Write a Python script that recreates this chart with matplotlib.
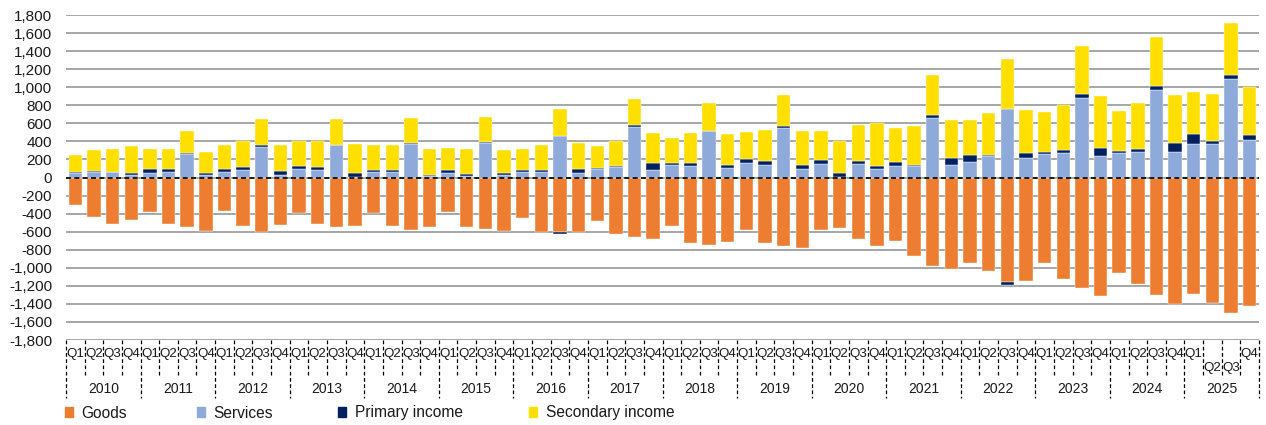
import matplotlib
matplotlib.use("Agg")
import matplotlib.pyplot as plt
from matplotlib.patches import Patch
import numpy as np

plt.rcParams['font.family'] = ['Liberation Sans', 'DejaVu Sans']

# data, 2010 Q1 .. 2025 Q4
years = [str(y) for y in range(2010, 2026)]
quarters = ['Q1', 'Q2', 'Q3', 'Q4']

goods = [-310, -439, -510, -476, -380, -510, -550, -598, -366, -539, -606, -528, -388, -513,
         -550, -532, -388, -535, -580, -550, -384, -550, -572, -591, -451, -602, -609, -609, -484, -631,
         -657, -680, -539, -728, -750, -716, -580, -720, -761, -779, -580, -558, -680, -761, -698, -872,
         -979, -1016, -942, -1041, -1160, -1145, -942, -1119, -1226, -1311, -1053, -1178, -1304, -1400,
         -1285, -1385, -1496, -1418]
services = [45, 60, 60, 33, 55, 66, 255, 33, 63, 78, 340, 30, 89, 78,
            358, 10, 59, 63, 369, 18, 48, 22, 377, 26, 66, 63, 465, 52, 89, 111,
            554, 85, 133, 126, 510, 107, 159, 140, 547, 96, 148, 5, 151, 96, 129, 122,
            661, 144, 174, 236, 757, 214, 262, 266, 879, 236, 273, 284, 964, 277, 373, 366, 1093, 414]
primary = [18, 14, 3, 22, 34, 30, 18, 15, 33, 40, 18, 44, 40, 40,
           3, 38, 26, 22, 15, 15, 33, 22, 11, 22, 19, 22, -18, 40, 18, 11,
           26, 74, 33, 33, 3, 37, 51, 41, 18, 37, 51, 40, 34, 33, 41, 22,
           26, 70, 77, 15, -26, 56, 19, 40, 44, 93, 22, 34, 55, 100, 107, 40, 37, 55]
secondary = [188, 232, 258, 296, 225, 225, 244, 240, 262, 284, 285, 288, 270, 288,
             288, 325, 270, 277, 277, 285, 251, 270, 280, 258, 236, 277, 292, 292, 244, 284,
             292, 332, 270, 332, 314, 340, 292, 340, 351, 384, 311, 362, 395, 477, 380, 432,
             450, 425, 381, 465, 554, 480, 446, 499, 536, 572, 444, 506, 536, 535, 462, 517, 584, 532]

series = [('Goods', goods, '#ED7D31'),
          ('Services', services, '#8EAADB'),
          ('Primary income', primary, '#002060'),
          ('Secondary income', secondary, '#FFDF00')]

n = len(goods)
x = np.arange(n)

fig = plt.figure(figsize=(12.66, 4.25), dpi=100)
ax = fig.add_axes([66 / 1266, 85 / 425, 1193 / 1266, 325 / 425])

pos_base = np.zeros(n)
neg_base = np.zeros(n)
for name, vals, col in series:
    v = np.array(vals, dtype=float)
    bottom = np.where(v >= 0, pos_base, neg_base)
    ax.bar(x, v, 0.72, bottom=bottom, color=col, zorder=3,
           edgecolor='white', linewidth=0.3)
    pos_base += np.where(v >= 0, v, 0)
    neg_base += np.where(v < 0, v, 0)

ax.set_xlim(-0.5, n - 0.5)
ax.set_ylim(-1800, 1800)
ax.set_yticks(np.arange(-1800, 1801, 200))
ax.set_yticklabels([f'{t:,}' for t in range(-1800, 1801, 200)], fontsize=11, color='#1a1a1a')
ax.tick_params(axis='y', length=0, pad=10)
ax.set_xticks([])
ax.grid(axis='y', color='#a6a6a6', linewidth=1.4, zorder=0)
for s in ax.spines.values():
    s.set_visible(False)

# zero line
ax.axhline(0, color='black', linewidth=1.2, linestyle=(0, (3, 2)), zorder=4)

# two-level category axis
tr = ax.get_xaxis_transform()
for i in range(n):
    q = quarters[i % 4]
    yy = -0.043
    if i in (61, 62):
        yy = -0.086
    ax.text(i, yy, q, transform=tr, ha='center', va='center', fontsize=9.6, color='#1a1a1a')
for b in np.arange(-0.5, n, 1.0):
    if int(b + 0.5) % 4 == 0:
        ax.plot([b, b], [0, -0.178], transform=tr, color='black', lw=0.9,
                linestyle=(0, (3, 2)), clip_on=False)
    else:
        ax.plot([b, b], [0, -0.108], transform=tr, color='black', lw=0.9,
                linestyle=(0, (3, 2)), clip_on=False)
for k, yr in enumerate(years):
    ax.text(4 * k + 1.5, -0.151, yr, transform=tr, ha='center', va='center',
            fontsize=10, color='#1a1a1a')

# legend entries, spaced like the original
leg_x = [65, 197, 338, 529]
for (name, vals, col), lx in zip(series, leg_x):
    lg = fig.legend(handles=[Patch(color=col)], labels=[name], loc='center left',
                    bbox_to_anchor=(lx / 1266, 1 - 413 / 425), frameon=False,
                    fontsize=11.2, handlelength=0.52, handleheight=0.52,
                    handletextpad=0.55, borderpad=0, borderaxespad=0)
    for t in lg.get_texts():
        t.set_color('#1a1a1a')

fig.savefig('out.png', dpi=100)
